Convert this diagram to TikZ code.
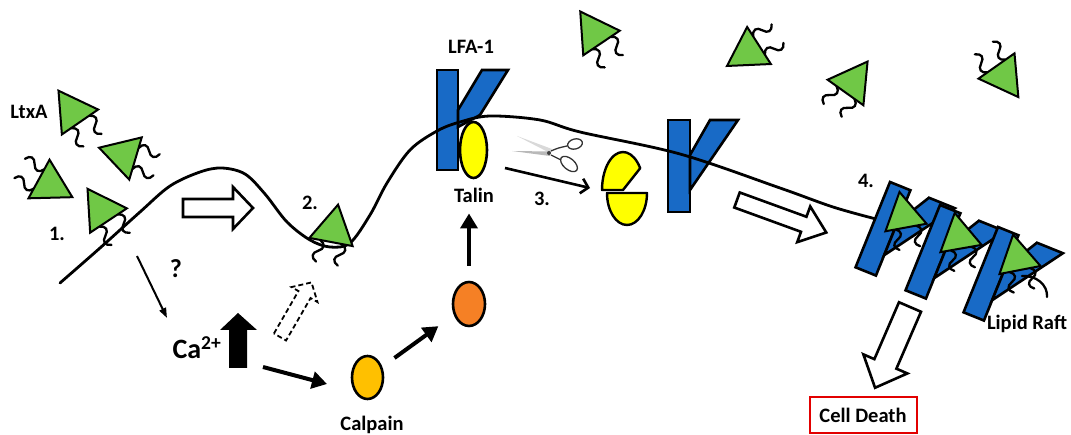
\documentclass[tikz,border=0pt]{standalone}
\usepackage{fontspec}
\setmainfont{Carlito}
\usetikzlibrary{arrows.meta,shapes.geometric}

\definecolor{toxgreen}{RGB}{112,200,70}
\definecolor{lfablue}{RGB}{24,106,198}
\definecolor{calgold}{RGB}{255,192,0}
\definecolor{actorange}{RGB}{245,128,37}
\definecolor{talyellow}{RGB}{255,255,0}
\definecolor{deathred}{RGB}{226,0,0}

\tikzset{
  lbl/.style={font=\fontsize{20.5}{23}\selectfont\bfseries, inner sep=1pt},
  membrane/.style={line width=2.8pt, line join=round, line cap=round},
  tri/.style={draw=black, fill=toxgreen, line width=2pt, line join=miter},
  tailline/.style={line width=2.3pt, line cap=round},
  kshape/.style={draw=black, fill=lfablue, line width=2.6pt},
  blob/.style={ellipse, draw=black, line width=2.6pt, inner sep=0pt},
  hollow/.style={draw=black, fill=white, line width=2.6pt, line join=miter},
  bigarrow/.style={line width=4pt, -{Triangle[length=15pt,width=17pt]}},
  % LtxA toxin: triangle with two fatty-acyl tails hanging from its base
  toxin/.pic={
    \foreach \tx in {-11,11}{
      \draw[tailline] (\tx,0) .. controls ({\tx+6},3) and ({\tx+6},8) .. (\tx,11)
                              .. controls ({\tx-6},14) and ({\tx-6},19) .. (\tx,22);
    }
    \draw[tri] (-22,0) -- (22,0) -- (0,-38) -- cycle;
  },
  % LFA-1 integrin, origin at the top-left corner of its stem
  integrin/.pic={
    \draw[kshape] (0,0) rectangle (22,92);
    \draw[kshape] (22,35) -- (42,0) -- (70,0) -- (22,70) -- cycle;
  },
}

\begin{document}
\begin{tikzpicture}[x=1pt,y=-1pt]
\useasboundingbox (0,0) rectangle (1071,435);

% LFA-1 bound to talin
\draw[kshape] (437,70) rectangle (458,170);
\draw[kshape] (458,110) -- (482,70) -- (508,70) -- (480,115) -- (458,127) -- cycle;
% LFA-1 released after talin cleavage
\draw[kshape] (668,120) rectangle (690,212);
\draw[kshape] (690,155) -- (710,120) -- (738,120) -- (690,190) -- cycle;

% cell membrane
\draw[membrane] plot[smooth, tension=0.55] coordinates {
  (60,283) (100,248) (140,212) (170,186) (200,172) (222,168) (245,174)
  (265,194) (287,222) (310,240) (330,247) (350,243) (370,215) (387,183)
  (410,150) (437,131) (460,122) (490,116) (540,120) (580,132) (680,154)
  (780,188) (833,207) (876,219)};

% talin and its cleaved halves
\node[blob, fill=talyellow, minimum width=27pt, minimum height=56pt] (talin) at (473.5,150) {};
\draw[fill=talyellow, line width=2.4pt, line join=round] (623,190) -- ++({21*cos(-35)},{38*sin(-35)})
  arc[start angle=-35, end angle=-180, x radius=21, y radius=38] -- cycle;
\draw[fill=talyellow, line width=2.4pt, line join=round] (627,193) -- ++(-20,0)
  arc[start angle=180, end angle=0, x radius=20, y radius=32] -- cycle;

% scissors
\fill[gray!30] (550,153) -- (517,136) -- (552,149) -- cycle;
\fill[gray!55] (550,156) -- (512,151) -- (551,151.5) -- cycle;
\fill[gray!50!black] (549,153) circle[radius=2];
\draw[gray!40!black, line width=1.3pt] (551,151) .. controls (558,148) .. (567,146);
\draw[gray!40!black, line width=1.3pt] (551,155) .. controls (556,157) .. (561,160);
\draw[gray!40!black, line width=1.3pt, rotate around={15:(575,144)}] (575,144) ellipse[x radius=7.5, y radius=5];
\draw[gray!40!black, line width=1.3pt, rotate around={-40:(569,164)}] (569,164) ellipse[x radius=10, y radius=5.5];

% free toxins
\pic[rotate=34.5] at (80,122) {toxin};
\pic[rotate=73.5] at (135.5,158.5) {toxin};
\pic[rotate=-118.6] at (39,179) {toxin};
\pic[rotate=34] at (601.5,43) {toxin};
\pic[rotate=122.6] at (759,45.5) {toxin};
\pic[rotate=-35.5] at (845.5,92.5) {toxin};
\pic[rotate=-144.9] at (996.5,66) {toxin};
% toxins at the membrane
\pic[rotate=33.5] at (108.5,220.5) {toxin};
\pic[rotate=-10.7] at (331,242) {toxin};

% lipid raft clusters
\pic[rotate=-22] at (890,182) {integrin};
\pic[rotate=10.4, scale=0.95] at (906,227.5) {toxin};
\pic[rotate=-22] at (940,205) {integrin};
\pic[rotate=10, scale=0.95] at (961,248.5) {toxin};
\pic[rotate=-22] at (998,227) {integrin};
\draw[tailline] (1022,276) .. controls (1036,275) and (1048,285) .. (1047,297);
\pic[rotate=11, scale=0.95] at (1020,270) {toxin};

% block arrows
\draw[hollow] (183,199) -- (233,199) -- (233,187) -- (253,208) -- (233,229) -- (233,217) -- (183,217) -- cycle;
\begin{scope}[shift={(737,200)}, rotate=-20]
  \draw[hollow] (0,-8) -- (71,-8) -- (71,-19) -- (95,0) -- (71,19) -- (71,8) -- (0,8) -- cycle;
\end{scope}
\begin{scope}[shift={(280,337)}, rotate=60]
  \draw[hollow, line width=1.8pt, dash pattern=on 5pt off 3pt] (0,-7) -- (49,-7) -- (49,-15) -- (63,0) -- (49,15) -- (49,7) -- (0,7) -- cycle;
\end{scope}
\begin{scope}[shift={(910,307)}, rotate=-113.4]
  \draw[hollow] (0,-12) -- (62,-12) -- (62,-24) -- (88,0) -- (62,24) -- (62,12) -- (0,12) -- cycle;
\end{scope}
% calcium rise
\fill (229,368) -- (247,368) -- (247,330) -- (257,330) -- (238,313) -- (220,330) -- (229,330) -- cycle;

% signalling molecules
\node[blob, fill=calgold, minimum width=31pt, minimum height=43pt] (calpain) at (367.5,377.5) {};
\node[blob, fill=actorange, minimum width=32pt, minimum height=44pt] (active) at (469,304) {};

% labels
\node[lbl] (ltxa) at (29,112) {LtxA};
\node[lbl] (s1) at (57,234) {1.};
\node[lbl, font=\fontsize{26}{28}\selectfont\bfseries] (qmark) at (176,269) {?};
\node[lbl] (s2) at (310,203) {2.};
\node[lbl] (lfa) at (471,47) {LFA-1};
\node[lbl] (talinlabel) at (474,195) {Talin};
\node[lbl] (s3) at (542,199) {3.};
\node[lbl] (s4) at (866,181) {4.};
\node[lbl] (raft) at (1027,324) {Lipid Raft};
\node[lbl] (calpainlabel) at (372,425) {Calpain};
\node[lbl, font=\fontsize{28}{30}\selectfont\bfseries] (ca) at (197,348) {Ca\textsuperscript{2+}};
\node[lbl, draw=deathred, line width=2pt, minimum width=107pt, minimum height=36pt] (death) at (863,415) {Cell Death};

% connectors
\coordinate (qstart) at (137,256);
\coordinate (qend) at (167,318);
\draw[line width=2pt, -{Triangle[length=10pt,width=7pt]}] (qstart) -- (qend);
\coordinate (castart) at (263,367);
\coordinate (caend) at (327,384);
\draw[bigarrow] (castart) -- (caend);
\draw[bigarrow, shorten <=15pt, shorten >=19pt] (calpain) -- (active);
\draw[bigarrow, shorten <=15pt, shorten >=10pt] (active.north) -- (active.north |- talinlabel.south);
\coordinate (cutstart) at (505,168);
\coordinate (cutend) at (590,188);
\draw[line width=2.6pt, -{Straight Barb[length=7pt,width=15pt]}] (cutstart) -- (cutend);

\end{tikzpicture}
\end{document}
